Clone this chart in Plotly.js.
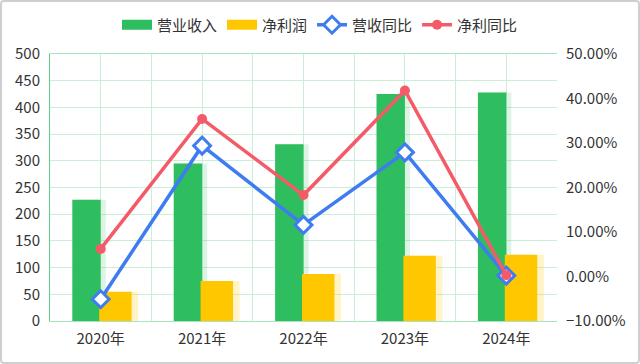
<!DOCTYPE html>
<html>
<head>
<meta charset="utf-8">
<script src="https://cdn.plot.ly/plotly-3.0.1.min.js"></script>
<style>
html,body{margin:0;padding:0;background:#fff;}
#wrap{position:relative;width:640px;height:364px;}
#chart{width:640px;height:364px;}
#frame{position:absolute;left:0;top:0;width:636px;height:360px;border:2px solid #cfcfcf;border-radius:4px;pointer-events:none;}
</style>
</head>
<body>
<div id="wrap"><div id="chart"></div><div id="frame"></div></div>
<script>
var categories = ['2020年','2021年','2022年','2023年','2024年'];
var revenue = [227, 295, 331, 425, 428];
var netProfit = [55, 75, 88, 122, 124];
var revenueYoY = [-5.1, 29.4, 11.6, 27.9, 0.2];
var profitYoY = [6.2, 35.4, 18.3, 41.8, 0.3];
var leftTicks = [0, 500, 50];
var rightTicks = [-10, 50, 10];

var fam = '"Noto Sans CJK SC", "Microsoft YaHei", sans-serif';
var font = {family: fam, size: 15, color: '#333'};
var gridColor = '#c9f0d6';
var green = '#2ebd5f', yellow = '#ffc700', blue = '#3f7cf2', red = '#f45b69';
var nulls = categories.map(function(){ return null; });

var traces = [
  // soft shadows behind bars
  {type:'bar', x:categories, y:revenue, marker:{color:'rgba(46,189,95,0.16)'},
   offset:-0.25, width:0.30, showlegend:false, hoverinfo:'skip'},
  {type:'bar', x:categories, y:netProfit, marker:{color:'rgba(255,199,0,0.22)'},
   offset:0.02, width:0.35, showlegend:false, hoverinfo:'skip'},
  {type:'bar', name:'营业收入', x:categories, y:revenue, marker:{color:green},
   offset:-0.28, width:0.28, showlegend:false, hoverinfo:'skip'},
  {type:'bar', name:'净利润', x:categories, y:netProfit, marker:{color:yellow},
   offset:-0.015, width:0.32, showlegend:false, hoverinfo:'skip'},
  // legend entries for the bars (drawn as wide blocks)
  {type:'scatter', mode:'lines', name:'营业收入', x:categories, y:nulls, line:{color:green, width:10}, hoverinfo:'skip'},
  {type:'scatter', mode:'lines', name:'净利润', x:categories, y:nulls, line:{color:yellow, width:10}, hoverinfo:'skip'},
  {type:'scatter', mode:'lines+markers', name:'营收同比', x:categories, y:revenueYoY, yaxis:'y2',
   line:{color:blue, width:3.5},
   marker:{symbol:'diamond', size:13, color:'#ffffff', line:{color:blue, width:3}}},
  {type:'scatter', mode:'lines+markers', name:'净利同比', x:categories, y:profitYoY, yaxis:'y2',
   line:{color:red, width:3.5},
   marker:{symbol:'circle', size:10, color:red}},
  // helper to attach the half-category vertical grid axis
  {type:'scatter', mode:'markers', x:categories.map(function(c,i){return i;}), y:nulls, xaxis:'x2',
   showlegend:false, hoverinfo:'skip', marker:{opacity:0}}
];

var layout = {
  width:640, height:364,
  margin:{l:50, r:83, t:54, b:43},
  paper_bgcolor:'#fff', plot_bgcolor:'#fff',
  font:font,
  barmode:'overlay',
  showlegend:true,
  legend:{orientation:'h', x:0.5, xref:'container', xanchor:'center', y:1 - 25/364, yref:'container', yanchor:'middle',
          font:{family:fam, size:15, color:'#333'}, itemwidth:30, tracegroupgap:0,
          traceorder:'normal'},
  xaxis:{type:'category', showgrid:false, zeroline:false, ticks:'', showline:true, linecolor:'#a6e6bf',
         linewidth:1, mirror:true, tickfont:font, range:[-0.5,4.5], ticklabelstandoff:4},
  xaxis2:{overlaying:'x', anchor:'y', type:'linear', range:[-0.5,4.5], tick0:-0.5, dtick:0.5,
          showgrid:true, gridcolor:gridColor, gridwidth:1, showticklabels:false, ticks:'', zeroline:false, showline:false},
  yaxis:{range:[leftTicks[0], leftTicks[1]], dtick:leftTicks[2], tick0:0, showgrid:true, gridcolor:gridColor,
         zeroline:false, showline:true, linecolor:'#5fcf85', linewidth:1, ticks:'', tickfont:font, ticklabelstandoff:6},
  yaxis2:{overlaying:'y', side:'right', range:[rightTicks[0], rightTicks[1]], dtick:rightTicks[2], tick0:-10,
          tickformat:'.2f', ticksuffix:'%', showgrid:false, zeroline:false, showline:false, ticks:'', tickfont:font, ticklabelstandoff:8}
};

Plotly.newPlot('chart', traces, layout, {displayModeBar:false, staticPlot:true});
</script>
</body>
</html>
